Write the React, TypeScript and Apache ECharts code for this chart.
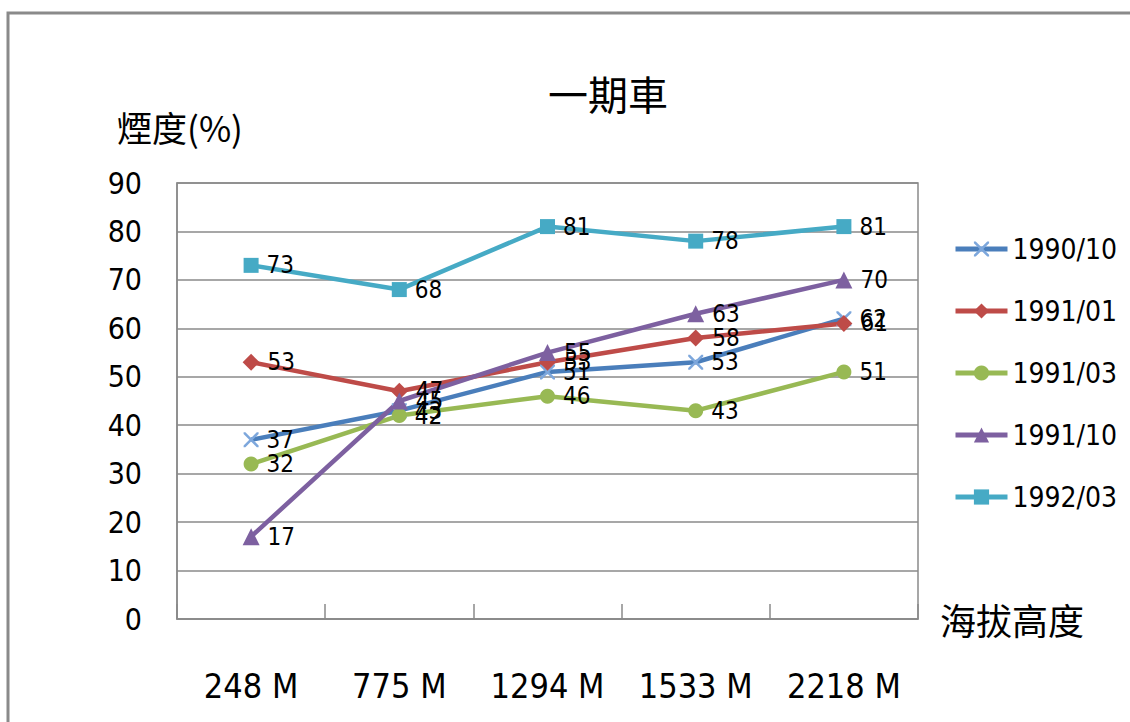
import React, { useEffect, useRef } from "react";
import * as echarts from "echarts";

// Altitude stations along the route (x axis)
const altitudes = ["248 M", "775 M", "1294 M", "1533 M", "2218 M"];

// Smoke opacity (%) measured on each test date
const seriesNames = ["1990/10", "1991/01", "1991/03", "1991/10", "1992/03"];
const s1990_10 = [37, 43, 51, 53, 62];
const s1991_01 = [53, 47, 53, 58, 61];
const s1991_03 = [32, 42, 46, 43, 51];
const s1991_10 = [17, 45, 55, 63, 70];
const s1992_03 = [73, 68, 81, 78, 81];

const yTicks = [0, 10, 20, 30, 40, 50, 60, 70, 80, 90];

const NARROW = "'Liberation Sans Narrow', 'DejaVu Sans Condensed', 'Noto Sans', sans-serif";
const CJK = "'Noto Sans CJK TC', 'Noto Sans CJK SC', sans-serif";

const CROSS =
  "path://M0,0L1.2,0L5,3.8L8.8,0L10,0L10,1.2L6.2,5L10,8.8L10,10L8.8,10L5,6.2L1.2,10L0,10L0,8.8L3.8,5L0,1.2Z";

export default function App() {
  const ref = useRef<HTMLDivElement>(null);

  useEffect(() => {
    if (!ref.current) return;
    const chart = echarts.init(ref.current, null, { renderer: "svg" });

    const defs = [
      { data: s1990_10, color: "#4A7EBB", symbol: CROSS, size: 15, markerColor: "#7DA7DC" },
      { data: s1991_01, color: "#BE4B48", symbol: "diamond", size: 17, markerColor: "#BE4B48" },
      { data: s1991_03, color: "#98B954", symbol: "circle", size: 15, markerColor: "#98B954" },
      { data: s1991_10, color: "#7D60A0", symbol: "triangle", size: 17, markerColor: "#7D60A0" },
      { data: s1992_03, color: "#46AAC5", symbol: "rect", size: 15, markerColor: "#46AAC5" },
    ];

    chart.setOption({
      animation: false,
      backgroundColor: "#ffffff",
      title: {
        text: "一期車",
        left: 603,
        top: 68,
        textAlign: "center",
        textStyle: { fontFamily: CJK, fontSize: 40, fontWeight: "normal", color: "#000" },
      },
      graphic: [
        {
          type: "rect",
          shape: { x: 8, y: 13, width: 1140, height: 730 },
          style: { fill: "none", stroke: "#8a8a8a", lineWidth: 3 },
          silent: true,
          z: -10,
        },
      ],
      legend: {
        orient: "vertical",
        left: 948,
        top: 229,
        itemWidth: 52,
        itemHeight: 19,
        itemGap: 32,
        data: seriesNames,
        lineStyle: { width: 5 },
        textStyle: { fontFamily: NARROW, fontSize: 28, color: "#000", lineHeight: 30 },
      },
      grid: {
        left: 177,
        top: 183,
        right: 212,
        bottom: 103,
        show: true,
        borderColor: "#8a8a8a",
        borderWidth: 1.5,
      },
      xAxis: {
        type: "category",
        data: altitudes,
        boundaryGap: true,
        name: "海拔高度",
        nameLocation: "end",
        nameGap: 22,
        nameTextStyle: { fontFamily: CJK, fontSize: 36, color: "#000", verticalAlign: "middle", padding: [26, 0, 0, 0] },
        axisLine: { lineStyle: { color: "#8a8a8a", width: 1.5 } },
        axisTick: { show: true, inside: true, length: 15, lineStyle: { color: "#8a8a8a", width: 1.5 } },
        axisLabel: { fontFamily: NARROW, fontSize: 34, color: "#000", margin: 50 },
      },
      yAxis: {
        type: "value",
        min: yTicks[0],
        max: yTicks[yTicks.length - 1],
        interval: 10,
        name: "煙度(%)",
        nameLocation: "end",
        nameGap: 39,
        nameTextStyle: { fontFamily: CJK, fontSize: 35, color: "#000", padding: [0, 0, 0, 6] },
        axisLine: { show: true, lineStyle: { color: "#8a8a8a", width: 1.5 } },
        axisTick: { show: false },
        axisLabel: { fontFamily: NARROW, fontSize: 30, color: "#000", margin: 35 },
        splitLine: { lineStyle: { color: "#8a8a8a", width: 1.5 } },
      },
      series: defs.map((d, i) => ({
        name: seriesNames[i],
        type: "line",
        data: d.data,
        symbol: d.symbol,
        symbolSize: d.size,
        showAllSymbol: true,
        lineStyle: { color: d.color, width: 4.5 },
        itemStyle: { color: d.markerColor },
        label: {
          show: true,
          position: "right",
          distance: 8,
          fontFamily: NARROW,
          fontSize: 24,
          color: "#000",
        },
        emphasis: { disabled: true },
      })),
    });

    return () => chart.dispose();
  }, []);

  return (
    <div
      ref={ref}
      style={{ position: "absolute", left: 0, top: 0, width: 1130, height: 722 }}
    />
  );
}
